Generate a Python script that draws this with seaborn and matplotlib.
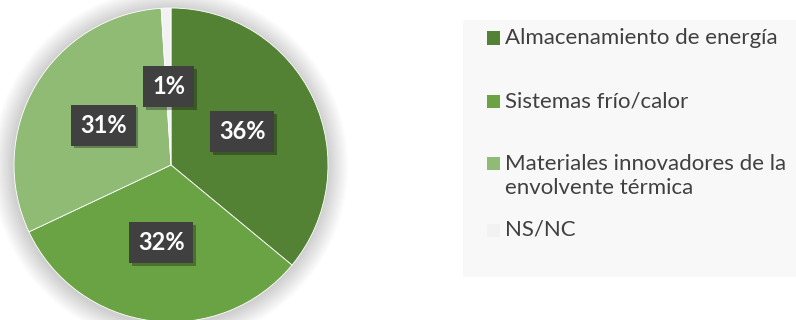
import matplotlib
matplotlib.use("Agg")
import matplotlib.pyplot as plt
import matplotlib.patheffects as pe
from matplotlib.patches import Rectangle, Circle
import seaborn as sns

categories = ["Almacenamiento de energía", "Sistemas frío/calor",
              "Materiales innovadores de la\nenvolvente térmica", "NS/NC"]
values = [36, 32, 31, 1]
colors = ["#548235", "#6AA343", "#8FBB74", "#F2F2F2"]

sns.set_theme(style="white")
plt.rcParams["font.family"] = ["Lato", "DejaVu Sans"]

W, H = 796, 320
fig = plt.figure(figsize=(W / 100, H / 100), dpi=100)
fig.patch.set_facecolor("white")

# pie axes: centre (171,165), radius 157 px
cx, cy, r = 171, 165, 157
ax = fig.add_axes([(cx - r) / W, (H - cy - r) / H, 2 * r / W, 2 * r / H])
ax.axis("off")

wedges, texts = ax.pie(values, colors=colors, startangle=90, counterclock=False,
                       radius=1.0, labels=[f"{v}%" for v in values],
                       labeldistance=0.5,
                       wedgeprops=dict(edgecolor="#FFFFFF", linewidth=0.6))
ax.set_xlim(-1, 1)
ax.set_ylim(-1, 1)
ax.set_aspect("equal")

# soft shadow around the pie
for k in range(12):
    ax.add_patch(Circle((-0.005, -0.01), 1.0 + 0.011 * (k + 1), color="#000000",
                        alpha=0.014, lw=0, zorder=0, clip_on=False))

for t in texts:
    t.set_ha("center")
    t.set_va("center")
    t.set_color("white")
    t.set_fontweight("bold")
    t.set_fontsize(17)
    t.set_zorder(5)
    t.set_bbox(dict(boxstyle="square,pad=0.38", fc="#404040", ec="none"))
    t.get_bbox_patch().set_path_effects(
        [pe.withSimplePatchShadow(offset=(2, -2), shadow_rgbFace="#000000", alpha=0.3)])

# legend panel
fig.patches.append(Rectangle((463 / W, (H - 277) / H), (W - 463) / W, (277 - 20) / H,
                             transform=fig.transFigure, fc="#F8F8F8", ec="none", zorder=0))

entry_y = [38, 101, 163, 230]
for lab, col, y in zip(categories, colors, entry_y):
    fig.patches.append(Rectangle((487 / W, (H - y - 6.5) / H), 13 / W, 13 / H,
                                 transform=fig.transFigure, fc=col, ec="none", zorder=2))
    if "\n" in lab:
        fig.text(505 / W, (H - y + 9) / H, lab, ha="left", va="top",
                 fontsize=16, color="#404040", linespacing=1.22)
    else:
        fig.text(505 / W, (H - y) / H, lab, ha="left", va="center",
                 fontsize=16, color="#404040")

fig.savefig("out.png", dpi=100, facecolor="white")
